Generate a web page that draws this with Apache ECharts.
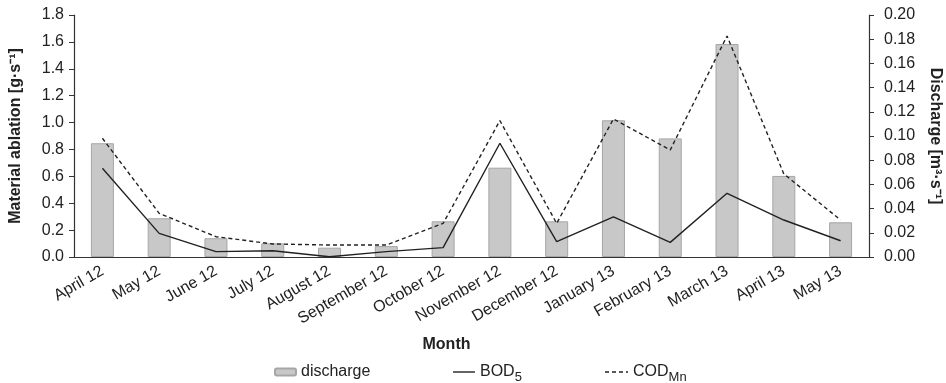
<!DOCTYPE html>
<html>
<head>
<meta charset="utf-8">
<script src="https://cdn.jsdelivr.net/npm/echarts@6/dist/echarts.min.js"></script>
<style>html,body{margin:0;padding:0;background:#fff}#c{width:946px;height:383px}</style>
</head>
<body>
<div id="c"></div>
<script>
const months = ['April 12','May 12','June 12','July 12','August 12','September 12','October 12','November 12','December 12','January 13','February 13','March 13','April 13','May 13'];
const discharge = [0.094,0.032,0.0155,0.0113,0.0077,0.009,0.0295,0.0738,0.0295,0.113,0.098,0.176,0.067,0.0287];
const bod5 = [0.66,0.176,0.04,0.047,0.002,0.04,0.07,0.846,0.114,0.298,0.109,0.474,0.275,0.121];
const codMn = [0.883,0.325,0.151,0.097,0.089,0.089,0.25,1.014,0.25,1.027,0.796,1.644,0.618,0.275];
const leftTicks = {min:0,max:1.8,interval:0.2};
const rightTicks = {min:0,max:0.2,interval:0.02};

const font = 'Liberation Sans, Arial, sans-serif';
const axisColor = '#333';
const legendText = {fontSize:16,color:'#222',fontFamily:font,
  rich:{a:{fontSize:16,color:'#222',fontFamily:font},s:{fontSize:13,color:'#222',fontFamily:font,padding:[10,0,0,0]}}};
const fmt = function(n){
  if(n==='BOD5') return '{a|BOD}{s|5}';
  if(n==='CODMn') return '{a|COD}{s|Mn}';
  return n;
};
const solidIcon = 'path://M0,0L22,0L22,1.4L0,1.4Z';
const dashIcon = 'path://M0,0h4v1.4h-4zM7,0h4v1.4h-4zM14,0h4v1.4h-4zM21,0h2v1.4h-2z';
const chart = echarts.init(document.getElementById('c'));
chart.setOption({
  animation:false,
  textStyle:{fontFamily:font},
  grid:{left:74,right:77,top:15,bottom:126,containLabel:false,outerBoundsMode:'none'},
  legend:[
    {left:274, top:364, padding:0, itemWidth:21, itemHeight:7, textStyle:legendText, formatter:fmt, data:['discharge']},
    {left:453, top:364, padding:0, itemWidth:22, itemHeight:1.4, textStyle:legendText, formatter:fmt,
      data:[{name:'BOD5',icon:solidIcon,itemStyle:{color:'#222'}}]},
    {left:605, top:364, padding:0, itemWidth:23, itemHeight:1.4, textStyle:legendText, formatter:fmt,
      data:[{name:'CODMn',icon:dashIcon,itemStyle:{color:'#222'}}]}
  ],
  xAxis:[{
    type:'category', data:months, position:'bottom',
    name:'Month', nameLocation:'middle', nameGap:80,
    nameTextStyle:{fontSize:16,fontWeight:'bold',color:'#222',padding:[0,50,0,0]},
    axisLine:{lineStyle:{color:axisColor,width:1.2}},
    axisTick:{alignWithLabel:false,length:5,lineStyle:{color:axisColor}},
    axisLabel:{rotate:30,fontSize:16,color:'#222',margin:13,interval:0}
  },{
    type:'category', data:months, position:'bottom',
    axisLine:{show:false},
    axisTick:{alignWithLabel:true,length:5,lineStyle:{color:axisColor}},
    axisLabel:{show:false}
  }],
  yAxis:[{
    type:'value', min:leftTicks.min, max:leftTicks.max, interval:leftTicks.interval,
    name:'Material ablation [g·s⁻¹]', nameLocation:'middle', nameGap:50, nameRotate:90,
    nameTextStyle:{fontSize:16,fontWeight:'bold',color:'#222'},
    axisLine:{show:true,lineStyle:{color:axisColor,width:1.2}},
    axisTick:{show:true,length:5,lineStyle:{color:axisColor}},
    axisLabel:{fontSize:16,color:'#222',margin:10,formatter:v=>v.toFixed(1)},
    splitLine:{show:false}
  },{
    type:'value', min:rightTicks.min, max:rightTicks.max, interval:rightTicks.interval,
    name:'Discharge [m³·s⁻¹]', nameLocation:'middle', nameGap:58, nameRotate:-90,
    nameTextStyle:{fontSize:16,fontWeight:'bold',color:'#222'},
    axisLine:{show:true,lineStyle:{color:axisColor,width:1.2}},
    axisTick:{show:true,length:5,lineStyle:{color:axisColor}},
    axisLabel:{fontSize:16,color:'#222',margin:15,formatter:v=>v.toFixed(2)},
    splitLine:{show:false}
  }],
  series:[{
    name:'discharge', type:'bar', xAxisIndex:0, yAxisIndex:1, data:discharge,
    barWidth:23, itemStyle:{color:'#c8c8c8',borderColor:'#a6a6a6',borderWidth:1}
  },{
    name:'BOD5', type:'line', xAxisIndex:0, yAxisIndex:0, data:bod5,
    symbol:'none', itemStyle:{color:'#222'}, lineStyle:{color:'#222',width:1.4}
  },{
    name:'CODMn', type:'line', xAxisIndex:0, yAxisIndex:0, data:codMn,
    symbol:'none', itemStyle:{color:'#222'}, lineStyle:{color:'#222',width:1.4,type:[4,3]}
  }]
});
</script>
</body>
</html>
